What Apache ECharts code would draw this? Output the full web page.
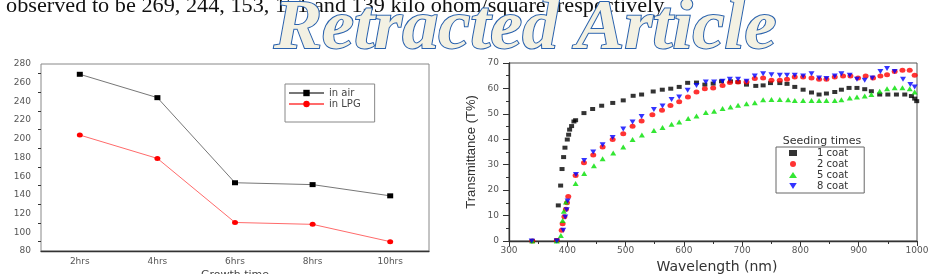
<!DOCTYPE html>
<html>
<head>
<meta charset="utf-8">
<script src="https://cdn.jsdelivr.net/npm/echarts@6/dist/echarts.min.js"></script>
<style>
html, body { margin: 0; padding: 0; background: #fff; }
#chart { width: 933px; height: 274px; }
</style>
</head>
<body>
<div id="chart"></div>
<script>
// left panel: resistance vs growth time
var growthTimes = ['2hrs', '4hrs', '6hrs', '8hrs', '10hrs'];
var inAir = [269, 244, 153, 151, 139];
var inLPG = [204, 179, 110.5, 108.5, 90];

// right panel: transmittance spectra [wavelength nm, T%]
var coat1 = [[340,0],[382,0.3],[384.6,14],[388.6,21.8],[391,28.3],[393.7,33],[396,36.7],[400,39.9],[402.3,41.8],[404,43.8],[407.4,45.2],[411.4,47],[414.3,47.5],[428.6,50.3],[443.5,51.9],[459,53.2],[478,54.3],[496,55.3],[513,57.1],[527.5,57.6],[547.4,58.8],[563,59.5],[577.5,59.9],[592,60.6],[606.5,62.2],[621.7,62.3],[636,61.5],[650.3,61.9],[664.6,62.8],[680,62.8],[693,62.5],[707.5,61.5],[723.4,61],[736,61.2],[748.6,62.1],[764.6,62.1],[777,61.8],[790.3,60.6],[804.6,59.5],[819,58.4],[832,57.6],[844.6,58],[858.9,58.6],[870.3,59.5],[883.4,60.2],[897,60.2],[910.3,59.7],[921.7,58.9],[936,57.6],[950,57.6],[964.7,57.6],[979,57.6],[990.4,57],[996,56],[999.5,55]];
var coat2 = [[340,0],[382,0.2],[390.4,4.2],[392,6.8],[395,9.5],[397.7,12.5],[399.5,15],[401.7,17.5],[414.3,25.8],[428.6,30.8],[444.5,33.8],[460.6,37],[477.8,39.9],[496,42.2],[512,45.1],[527.5,47.2],[546,49.6],[562.5,51.4],[577,53.3],[592,54.8],[607,56.6],[621.7,58.6],[636,59.9],[650.3,60.2],[666.4,61.2],[678.9,62.3],[693,62.5],[707.5,62.5],[721.7,63.9],[736,64.1],[750.3,63.2],[764.6,63.2],[777,63.6],[790.3,64.5],[804.6,64.5],[819,64.1],[832,63.6],[844.6,63.6],[858.9,64.5],[873.1,64.9],[885.8,64.9],[898.9,64.1],[912,64.9],[924.6,64.1],[937.2,64.9],[948.6,65.4],[961.7,66.7],[975,67.1],[987.5,67.1],[996,65.2]];
var coat5 = [[340,0],[382,0],[389,2.2],[392,8.1],[394,11.7],[397.7,15.3],[414.3,22.6],[429,26.5],[445.7,29.6],[460.6,32.3],[478.8,34.6],[496,37],[512,39.9],[528,41.7],[548.6,43.5],[563.4,44.6],[578.9,45.9],[592,46.8],[607.4,48.2],[621.7,49.2],[637.7,50.5],[651.9,51],[666.4,52.1],[680,52.7],[693,53.4],[707.5,54],[721.7,54.4],[736,55.5],[750.3,55.6],[764.6,55.6],[778.9,55.5],[790.3,55.3],[804.6,55.3],[819,55.3],[832,55.3],[844.6,55.3],[858.9,55.3],[870.3,55.5],[884.6,56.2],[897,56.6],[910.3,57],[921.7,57.6],[936,58.9],[948.6,59.9],[961.7,60.3],[975,60.3],[987.5,59.9],[996,58.6]];
var coat8 = [[339,0],[382,0],[393,4.2],[396.5,9.4],[399,12.3],[400.6,15.7],[414.9,26.2],[429,31.7],[444.5,35],[460.6,37.9],[477.8,40.7],[496,44],[512,46.8],[527.5,49],[548.6,51.7],[563.4,53.1],[578.9,55.6],[592,56.6],[606.5,59.3],[621.7,61.2],[637.7,62.5],[651.9,62.5],[666.4,62.8],[678.9,63.6],[693,63.6],[707.5,62.8],[721.7,64.9],[736,65.8],[750.3,65.4],[764.6,65.2],[777,65.2],[790.3,65.2],[804.6,64.9],[819,65.8],[832,64.1],[844.6,63.9],[858.9,64.9],[870.3,65.8],[884.6,65.2],[897,63.6],[910.3,63.2],[923.4,64.1],[937.2,66.7],[948.6,67.8],[961.7,66.7],[976,63.6],[988.6,61.5],[996,60.6]];

var bodyText = 'observed to be 269, 244, 153, 151 and 139 kilo ohom/square, respectively.';
var stampText = 'Retracted Article';

var downTri = 'path://M0,0L10,0L5,8Z';
var lab = { fontFamily: 'DejaVu Sans', fontSize: 9, color: '#555' };
var axLine = { lineStyle: { color: '#333', width: 1.3 } };
var plain = function (v) { return String(v); };

var chart = echarts.init(document.getElementById('chart'));
chart.setOption({
  animation: false,
  backgroundColor: '#fff',
  grid: [
    { left: 41, top: 64, width: 388, height: 187, outerBoundsMode: 'none', show: true, borderColor: '#888', borderWidth: 1 },
    { left: 509, top: 63, width: 408, height: 178, outerBoundsMode: 'none', show: true, borderColor: '#555', borderWidth: 1 }
  ],
  xAxis: [
    {
      gridIndex: 0, type: 'category', data: growthTimes, boundaryGap: true, position: 'bottom',
      axisLine: axLine,
      axisTick: { length: 3, lineStyle: { color: '#333' } },
      axisLabel: { show: false },
      name: 'Growth time', nameLocation: 'middle', nameGap: 19,
      nameTextStyle: { fontFamily: 'DejaVu Sans', fontSize: 11, color: '#444' }
    },
    {
      gridIndex: 0, type: 'category', data: growthTimes, boundaryGap: true, position: 'bottom',
      axisLine: { show: false },
      axisTick: { alignWithLabel: true, length: 5, lineStyle: { color: '#333' } },
      axisLabel: Object.assign({ margin: 6 }, lab)
    },
    {
      gridIndex: 1, type: 'value', min: 300, max: 1000, interval: 100,
      axisLine: axLine,
      axisTick: { length: 5, lineStyle: { color: '#333' } },
      minorTick: { show: true, splitNumber: 2, length: 3, lineStyle: { color: '#333' } },
      splitLine: { show: false },
      axisLabel: Object.assign({ margin: 5, formatter: plain }, lab),
      name: 'Wavelength (nm)', nameLocation: 'middle', nameGap: 14,
      nameTextStyle: { fontFamily: 'DejaVu Sans', fontSize: 14, color: '#333', padding: [0, 0, 0, 8] }
    }
  ],
  yAxis: [
    {
      gridIndex: 0, type: 'value', min: 80, max: 280, interval: 20,
      axisLine: axLine,
      axisTick: { length: 6, lineStyle: { color: '#333' } },
      minorTick: { show: true, splitNumber: 2, length: 3, lineStyle: { color: '#333' } },
      splitLine: { show: false },
      axisLabel: Object.assign({ margin: 10 }, lab)
    },
    {
      gridIndex: 1, type: 'value', min: 0, max: 70, interval: 10,
      axisLine: axLine,
      axisTick: { length: 6, lineStyle: { color: '#333' } },
      minorTick: { show: true, splitNumber: 2, length: 3, lineStyle: { color: '#333' } },
      splitLine: { show: false },
      axisLabel: Object.assign({ margin: 10 }, lab),
      name: 'Transmittance (T%)', nameLocation: 'middle', nameGap: 31,
      nameTextStyle: { fontFamily: '"Liberation Sans Narrow", "Liberation Sans"', fontSize: 13, color: '#333' }
    }
  ],
  legend: [
    {
      data: ['in air', 'in LPG'],
      orient: 'vertical', left: 285, top: 84,
      padding: [4, 14, 13, 3], itemGap: 1, itemWidth: 35, itemHeight: 8,
      borderColor: '#888', borderWidth: 1,
      textStyle: { fontFamily: 'DejaVu Sans', fontSize: 10, color: '#444', lineHeight: 10 }
    },
    {
      data: [
        { name: '1 coat', icon: 'rect' },
        { name: '2 coat', icon: 'circle' },
        { name: '5 coat', icon: 'triangle' },
        { name: '8 coat', icon: downTri }
      ],
      orient: 'vertical', left: 776, top: 147,
      padding: [1, 16, 2, 13], itemGap: 1, itemWidth: 8, itemHeight: 6,
      borderColor: '#666', borderWidth: 1,
      textStyle: { fontFamily: 'DejaVu Sans', fontSize: 10, color: '#333', lineHeight: 10, padding: [0, 0, 0, 15] }
    }
  ],
  graphic: [
    {
      type: 'text', x: 6, y: 6, scaleX: 1.06, z: 10,
      style: { text: bodyText, font: '21px "Liberation Serif"', fill: '#111', verticalAlign: 'middle' }
    },
    {
      type: 'text', x: 822, y: 141, z: 10,
      style: { text: 'Seeding times', font: '11px "DejaVu Sans"', fill: '#333', align: 'center', verticalAlign: 'middle' }
    },
    {
      type: 'text', x: 274, y: 30, scaleX: 1.03, z: 100,
      style: {
        text: stampText, font: 'italic bold 70px "Liberation Serif"',
        fill: '#f3f1e3', stroke: '#2a62ad', lineWidth: 2, verticalAlign: 'middle'
      }
    }
  ],
  series: [
    {
      name: 'in air', type: 'line', xAxisIndex: 0, yAxisIndex: 0, data: inAir,
      symbol: 'rect', symbolSize: [6, 5],
      itemStyle: { color: '#000' }, lineStyle: { color: '#777', width: 1 }
    },
    {
      name: 'in LPG', type: 'line', xAxisIndex: 0, yAxisIndex: 0, data: inLPG,
      symbol: 'circle', symbolSize: [6, 5],
      itemStyle: { color: '#f00' }, lineStyle: { color: '#ff6b6b', width: 1 }
    },
    {
      name: '1 coat', type: 'scatter', xAxisIndex: 2, yAxisIndex: 1, data: coat1,
      symbol: 'rect', symbolSize: [5, 4], itemStyle: { color: '#000' }
    },
    {
      name: '2 coat', type: 'scatter', xAxisIndex: 2, yAxisIndex: 1, data: coat2,
      symbol: 'circle', symbolSize: [6, 5], itemStyle: { color: '#ff0000' }
    },
    {
      name: '5 coat', type: 'scatter', xAxisIndex: 2, yAxisIndex: 1, data: coat5,
      symbol: 'triangle', symbolSize: [6, 5], itemStyle: { color: '#00e000' }
    },
    {
      name: '8 coat', type: 'scatter', xAxisIndex: 2, yAxisIndex: 1, data: coat8,
      symbol: downTri, symbolSize: [6, 5], itemStyle: { color: '#0000ff' }
    }
  ]
});
</script>
</body>
</html>
